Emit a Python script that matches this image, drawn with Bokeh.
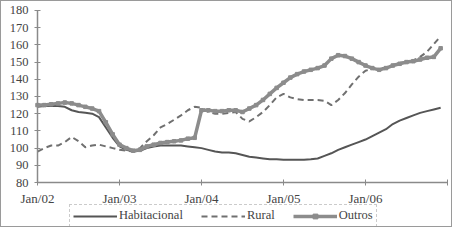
from bokeh.plotting import figure
from bokeh.models import Legend, LegendItem, FixedTicker
from bokeh.embed import file_html
from bokeh.resources import INLINE

# Monthly index Jan/02 .. Dec/06
months = list(range(60))
tick_positions = [0, 12, 24, 36, 48, 60]
tick_labels = ["Jan/02", "Jan/03", "Jan/04", "Jan/05", "Jan/06", ""]
y_ticks = [80, 90, 100, 110, 120, 130, 140, 150, 160, 170, 180]

habitacional = [124, 124.5, 124.5, 124.5, 124, 122, 121, 120.5, 120, 118, 112, 106,
                101, 99, 98, 98.5, 100, 101, 101.5, 101.5, 101.5, 101.5, 101, 100.5,
                100, 99, 98, 97.5, 97.5, 97, 96, 95, 94.5, 94, 93.5, 93.5,
                93.2, 93.2, 93.3, 93.3, 93.5, 94, 95.5, 97, 99, 100.5, 102, 103.5,
                105, 107, 109, 111, 114, 116, 117.5, 119, 120.5, 121.5, 122.5, 123.5]

rural = [98, 100, 101.5, 101.5, 103.5, 106.5, 104, 100.5, 101.5, 102, 101, 100,
         99, 98.5, 98, 100, 104, 107.5, 112, 114, 116.5, 119, 122, 124,
         123.5, 121, 120, 120, 120.5, 121, 117, 115.5, 118, 121, 125, 129.5,
         131.5, 129.5, 128.5, 128, 128, 128, 127.5, 125, 128, 132, 137, 141.5,
         145, 146, 146, 147, 148, 149.5, 150, 151, 153, 156, 160.5, 165]

outros = [125, 125, 125.5, 126, 126.5, 126, 125, 124, 123, 121.5, 115, 108,
          102, 100, 98.5, 99, 101, 102, 103, 103.5, 104, 104.5, 105.5, 106,
          122, 122, 121.5, 121.5, 122, 122, 121, 123, 125, 128, 131.5, 135,
          138, 141, 143, 144.5, 145.5, 146.5, 148, 152, 154, 153.5, 152, 150,
          148, 146.5, 145.5, 146.5, 148, 149, 150, 150.5, 151.5, 152.5, 153, 158]

FONT = "Liberation Serif"
X_MIN, X_MAX = 0, 60
Y_MIN, Y_MAX = 80, 180

# The frame fills the whole canvas; axes are pinned at x=0 / y=80 so that
# their labels and the legend below stay inside the drawing area.
p = figure(width=452, height=227, x_range=(-5.27, 60.88), y_range=(53.3, 185.2),
           output_backend="svg", toolbar_location=None,
           min_border_left=0, min_border_top=0, min_border_right=0, min_border_bottom=0)
p.styles = {"border": "1px solid #9a9a9a"}
p.outline_line_color = None
p.xgrid.visible = False
p.ygrid.visible = False

r_h = p.line(months, habitacional, line_color="#555555", line_width=2)
r_r = p.line(months, rural, line_color="#707070", line_width=2, line_dash="6 4")
r_o = p.line(months, outros, line_color="#8c8c8c", line_width=3.5)
r_om = p.scatter(months, outros, marker="square", size=3.5, fill_color="#8c8c8c",
                 line_color="#8c8c8c")

xa = p.xaxis[0]
ya = p.yaxis[0]
xa.fixed_location = Y_MIN
xa.bounds = (X_MIN, X_MAX)
xa.ticker = FixedTicker(ticks=tick_positions)
xa.major_label_overrides = {t: l for t, l in zip(tick_positions, tick_labels)}
ya.fixed_location = X_MIN
ya.bounds = (Y_MIN, Y_MAX)
ya.ticker = FixedTicker(ticks=y_ticks)

for ax in (xa, ya):
    ax.axis_line_color = "#8a8a8a"
    ax.axis_line_width = 1.5
    ax.major_tick_line_color = "#8a8a8a"
    ax.major_tick_in = 3
    ax.major_tick_out = 3
    ax.minor_tick_line_color = None
    ax.major_label_text_font = FONT
    ax.major_label_text_color = "#444444"
xa.major_label_text_font_size = "13px"
ya.major_label_text_font_size = "12.5px"
xa.major_label_standoff = 5
ya.major_label_standoff = 6

legend = Legend(items=[
    LegendItem(label="Habitacional", renderers=[r_h]),
    LegendItem(label="Rural", renderers=[r_r]),
    LegendItem(label="Outros", renderers=[r_o, r_om]),
], orientation="horizontal", location=(68, 1))
legend.label_text_font = FONT
legend.label_text_font_size = "12.5px"
legend.label_text_color = "#444444"
legend.glyph_width = 44
legend.glyph_height = 12
legend.label_standoff = 2
legend.spacing = 18
legend.padding = 3
legend.margin = 0
legend.border_line_color = "#999999"
legend.border_line_dash = "2 2"
legend.border_line_width = 1
legend.background_fill_alpha = 0
p.add_layout(legend, "center")

open("out.html", "w").write(file_html(p, INLINE))
